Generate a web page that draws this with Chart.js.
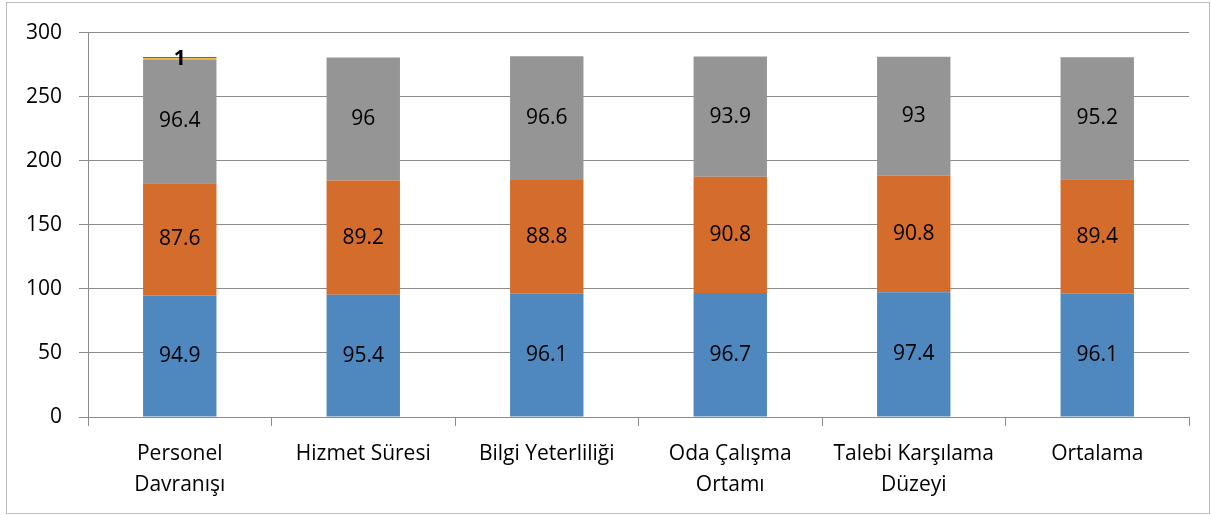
<!DOCTYPE html>
<html>
<head>
<meta charset="utf-8">
<script src="https://cdn.jsdelivr.net/npm/chart.js@4.4.0/dist/chart.umd.min.js"></script>
<style>
    body { margin: 0; background: #fff; }
    #wrap { position: absolute; left: 6px; top: 2px; width: 1202px; height: 510px; border: 1px solid #bdbdbd; }
</style>
</head>
<body>
<div id="wrap"><canvas id="Chart1"></canvas></div>
<script>
// data
const categories = [['Personel', 'Davranışı'], 'Hizmet Süresi', 'Bilgi Yeterliliği', ['Oda Çalışma', 'Ortamı'], ['Talebi Karşılama', 'Düzeyi'], 'Ortalama'];
const series1 = [94.9, 95.4, 96.1, 96.7, 97.4, 96.1];
const series2 = [87.6, 89.2, 88.8, 90.8, 90.8, 89.4];
const series3 = [96.4, 96, 96.6, 93.9, 93, 95.2];
const series4 = [1, null, null, null, null, null];
const series5 = [1, null, null, null, null, null];
const yTicks = [0, 50, 100, 150, 200, 250, 300];

const fontFamily = "'Open Sans', 'Liberation Sans', sans-serif";

// draw the values in the middle of each segment
const valueLabels = {
    id: 'valueLabels',
    afterDatasetsDraw(chart) {
        let ctx = chart.ctx;
        ctx.save();
        ctx.textAlign = 'center';
        ctx.textBaseline = 'middle';
        chart.data.datasets.forEach((ds, i) => {
            if (ds.hideLabels) return;
            let meta = chart.getDatasetMeta(i);
            meta.data.forEach((bar, j) => {
                let v = ds.data[j];
                if (v == null) return;
                ctx.font = (ds.boldLabels ? 'bold ' : '') + '21px ' + fontFamily;
                ctx.fillStyle = '#000';
                let y = ds.labelY ? bar.y + ds.labelY : (bar.y + bar.base) / 2;
                ctx.fillText(String(v), bar.x, y);
            });
        });
        ctx.restore();
    }
};

window.onload = () => {
    let ctx = document.getElementById('Chart1').getContext('2d');
    new Chart(ctx, {
        type: 'bar',
        data: {
            labels: categories,
            datasets: [
                { label: 's1', data: series1, backgroundColor: '#4f87bf' },
                { label: 's2', data: series2, backgroundColor: '#d46c2b' },
                { label: 's3', data: series3, backgroundColor: '#959595' },
                { label: 's4', data: series4, backgroundColor: '#f2b01e', boldLabels: true, labelY: 1 },
                { label: 's5', data: series5, backgroundColor: '#3f6fb5', hideLabels: true }
            ]
        },
        options: {
            responsive: true,
            maintainAspectRatio: false,
            animation: false,
            layout: { padding: { top: 17, right: 20, bottom: 0, left: 2 } },
            datasets: {
                bar: { categoryPercentage: 1, barPercentage: 0.4 }
            },
            plugins: {
                legend: { display: false },
                tooltip: { enabled: false }
            },
            scales: {
                x: {
                    stacked: true,
                    grid: { drawOnChartArea: false, color: '#8c8c8c', tickLength: 9 },
                    border: { color: '#8c8c8c' },
                    ticks: { color: '#000', font: { family: fontFamily, size: 21, lineHeight: 1.5 }, padding: 12, maxRotation: 0 }
                },
                y: {
                    stacked: true,
                    min: 0,
                    max: 300,
                    afterBuildTicks: (axis) => { axis.ticks = yTicks.map(v => ({ value: v })); },
                    grid: { color: '#8c8c8c', tickLength: 9 },
                    border: { color: '#8c8c8c' },
                    ticks: { color: '#000', font: { family: fontFamily, size: 21 }, padding: 17 }
                }
            }
        },
        plugins: [valueLabels]
    });
};
</script>
</body>
</html>
